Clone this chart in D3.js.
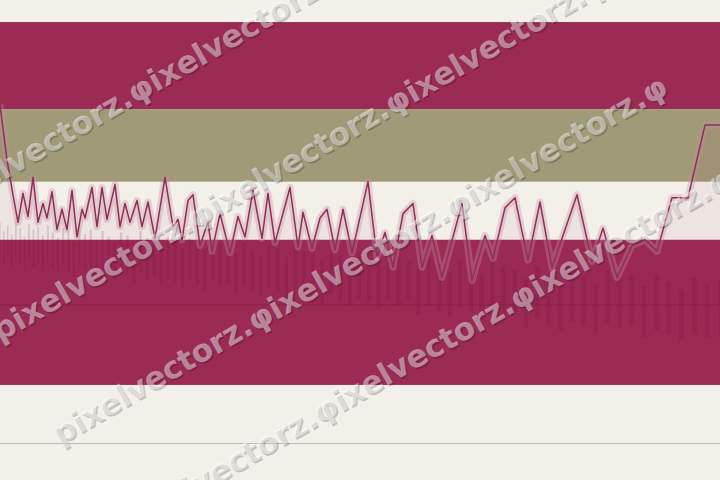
<!DOCTYPE html>
<html><head><meta charset="utf-8">
<script src="https://cdn.jsdelivr.net/npm/d3@7"></script>
<style>html,body{margin:0;padding:0;background:#f3f0ea;}svg{display:block}</style>
</head><body><svg id="c" width="720" height="480"></svg>
<script>
// ---- data ----
const bandLow   = [23, 18, 4];
const bandHigh  = [29, 23, 14];
const bandColor = ["#9b2a55", "#a09a78", "#9b2a55"];
const refValue  = 9.5;

const lineT = [0,3.5,6.5,9,11.5,14,16.5,19,21.5,23.5,26,28.5,31,33.5,36,38.5,41,42.5,46,48.5,51,53.5,57.5,60,62.5,65,68.5,71,74,77.5,82.5,86.5,89,91,94,96.5,100,104,106,110,115,119,122.5,126.5,131,134,137.5,145,149,151.5,156,160,163.5,167.5,171.5,176,184,188.5,192.5,196.5,201.5,206.5,211,216,221,231,236,242.5,246.5,252.5,257.5,264,270,276,288.5,296,301.5,308.5,316,322.5,328.5,336,344,352.5,360];
const lineV = [23.3,19.5,17.1,15.2,17.2,15.6,18.3,15.2,16.5,15.5,17.3,14.7,16.1,14.7,17.4,14.2,16.1,15.5,17.6,14.9,17.6,15.4,17.8,14.9,16.5,15.2,16.7,14.9,16.6,14.1,18.3,14.9,15.4,14.0,16.7,17.1,13.6,15.2,13.2,15.8,13.1,15.6,14.2,17.4,14.1,17.2,13.8,17.6,13.5,15.9,13.4,15.5,16.1,13.3,16.1,13.1,18.0,12.8,14.5,12.1,15.8,16.5,12.1,14.3,11.4,16.5,11.2,14.3,12.7,16.2,16.9,12.6,16.6,12.1,17.1,12.5,14.8,11.4,13.6,14.0,13.2,16.9,16.9,21.9,21.9];

const barTop = [15.2,14.6,15.0,14.4,15.3,14.8,14.2,15.1,14.7,14.9,
  14.3,15.0,14.5,14.1,14.8,14.6,13.9,14.9,14.4,14.7,
  14.0,14.6,14.2,13.8,14.5,14.3,13.7,14.6,14.1,14.4,
  13.6,14.2,13.9,13.4,14.1,13.7,13.3,14.0,13.8,13.5,
  13.1,13.8,13.3,12.9,13.6,13.4,12.8,13.7,13.2,13.0,
  12.6,13.3,12.9,12.4,13.1,12.7,12.3,13.2,12.8,12.5,
  12.0,12.8,12.3,11.8,12.6,12.1,11.6,12.7,12.2,11.9,
  11.3,12.2,11.7,11.2,12.0,11.5,10.9,11.9,11.4,11.6,
  10.8,11.6,11.1,10.6,11.4,10.9,11.2];
const barBottom = [12.6,12.2,12.8,12.0,12.5,12.3,11.9,12.7,12.1,12.4,
  11.9,12.4,12.0,11.7,12.3,11.8,11.5,12.2,11.9,12.1,
  11.4,11.9,11.6,11.2,11.8,11.5,11.0,11.7,11.3,11.6,
  10.9,11.4,11.1,10.7,11.3,10.9,10.5,11.2,10.8,11.0,
  10.3,10.8,10.5,10.1,10.7,10.4,9.9,10.6,10.2,10.4,
  9.6,10.2,9.8,9.4,10.0,9.7,9.2,9.9,9.5,9.8,
  8.9,9.5,9.1,8.7,9.3,9.0,8.5,9.2,8.8,9.0,
  8.0,8.6,8.2,7.8,8.4,8.1,7.6,8.3,7.9,8.1,
  7.3,7.8,7.5,7.1,7.6,7.3,7.2];

const watermarkText = "pixelvectorz.φixelvectorz.φixelvectorz.φ";
const watermarkRows = [[-60,217],[0,342],[60,445],[125,537]];

// ---- drawing ----
const W = 720, H = 480;
const svg = d3.select("#c");
const y = d3.scaleLinear().domain([0, 29]).range([443, 22]);
const x = d3.scaleLinear().domain([0, 360]).range([0, W]);
const offset = 35;
const nB = barTop.length;
const xb = d3.scalePow().exponent(2).domain([offset, offset + nB - 1]).range([0, W]);
const barW = i => Math.max(1.2, (xb(Math.min(i + offset + 0.5, offset + nB - 1)) - xb(Math.max(i + offset - 0.5, offset))) * 0.38);

svg.append("rect").attr("width", W).attr("height", H).attr("fill", "#f3f0ea");

svg.selectAll("rect.band").data(bandLow).join("rect")
  .attr("class", "band")
  .attr("x", 0).attr("width", W)
  .attr("y", (d, i) => y(bandHigh[i]))
  .attr("height", (d, i) => y(d) - y(bandHigh[i]))
  .attr("fill", (d, i) => bandColor[i]);

svg.append("line").attr("x1", 0).attr("x2", W)
  .attr("y1", y(bandHigh[0]) + 0.5).attr("y2", y(bandHigh[0]) + 0.5)
  .attr("stroke", "#7a4a58").attr("stroke-width", 1).attr("opacity", 0.6);

// floating bars
svg.append("g").selectAll("rect").data(barTop).join("rect")
  .attr("x", (d, i) => xb(i + offset) - barW(i) / 2)
  .attr("width", (d, i) => barW(i))
  .attr("y", d => y(d))
  .attr("height", (d, i) => y(barBottom[i]) - y(d))
  .attr("fill", "#6a0f35").attr("opacity", 0.16);

const pts = lineT.map((t, i) => [t, lineV[i]]);

svg.append("path").datum(pts)
  .attr("d", d3.area().x(d => x(d[0])).y0(y(refValue)).y1(d => y(d[1])))
  .attr("fill", "#9b2a55").attr("opacity", 0.06);

svg.append("line").attr("x1", 0).attr("x2", W)
  .attr("y1", y(refValue)).attr("y2", y(refValue))
  .attr("stroke", "#861f4b").attr("stroke-width", 1);

const lineGen = d3.line().x(d => x(d[0])).y(d => y(d[1]));
svg.append("path").datum(pts).attr("d", lineGen)
  .attr("fill", "none").attr("stroke", "#c98fa3").attr("stroke-width", 7)
  .attr("stroke-linejoin", "round").attr("opacity", 0.35);
svg.append("path").datum(pts).attr("d", lineGen)
  .attr("fill", "none").attr("stroke", "#8e2f57").attr("stroke-width", 1.5)
  .attr("stroke-linejoin", "round");

svg.append("line").attr("x1", 0).attr("x2", W)
  .attr("y1", y(0) + 0.5).attr("y2", y(0) + 0.5)
  .attr("stroke", "#bdb7ae").attr("stroke-width", 1);

// watermark
const wm = svg.append("g").attr("font-family", "DejaVu Sans, sans-serif")
  .attr("font-weight", "bold").attr("font-size", 31);
watermarkRows.forEach(([sx, sy]) => {
  wm.append("text").attr("transform", `translate(${sx + 1.5},${sy + 1.5}) rotate(-30)`)
    .attr("fill", "#000").attr("opacity", 0.2).text(watermarkText);
  wm.append("text").attr("transform", `translate(${sx},${sy}) rotate(-30)`)
    .attr("fill", "#fff").attr("opacity", 0.45).text(watermarkText);
});
</script></body></html>
